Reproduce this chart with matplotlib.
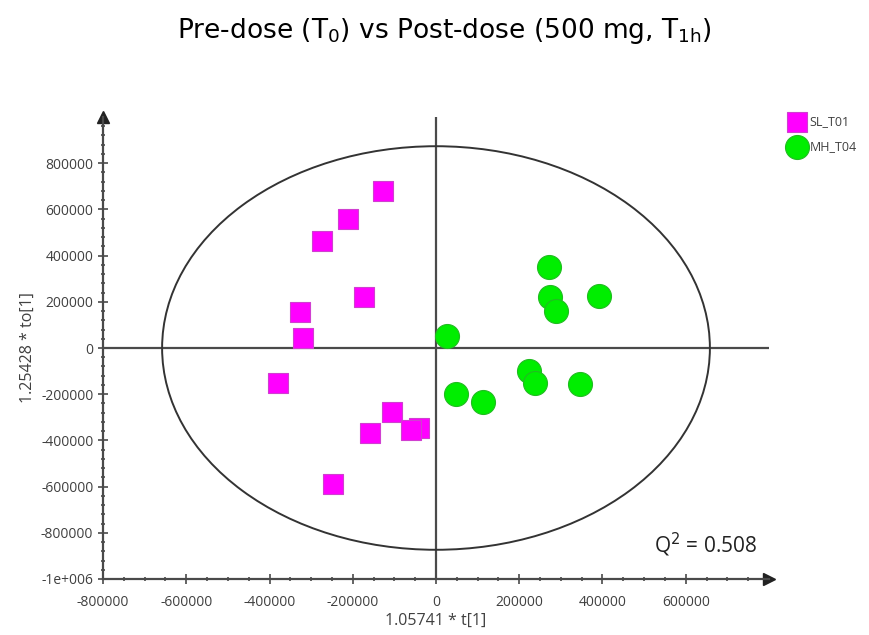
import matplotlib
matplotlib.use("Agg")
import matplotlib.pyplot as plt
from matplotlib.patches import Ellipse
from matplotlib.ticker import FixedLocator, FixedFormatter, MultipleLocator

plt.rcParams['font.family'] = ['Open Sans', 'DejaVu Sans']
plt.rcParams['mathtext.fontset'] = 'custom'
plt.rcParams['mathtext.rm'] = 'DejaVu Sans'
plt.rcParams['mathtext.it'] = 'DejaVu Sans:italic'

# ---- data ----
sl_x = [-128000, -210500, -274400, -172000, -326500, -320000, -380000,
        -105000, -158500, -40000, -60000, -246500]
sl_y = [679000, 558000, 463000, 219000, 156000, 42000, -150000,
        -278000, -366000, -347000, -355000, -589000]
mh_x = [27000, 271000, 274000, 288000, 391000, 223000, 238000, 346000, 48000, 113500]
mh_y = [53000, 349000, 222000, 161000, 226000, -99000, -150000, -156000, -200000, -233500]
series_names = ["SL_T01", "MH_T04"]
ellipse_axes = [658000, 873500]   # half-widths (t, to)
q2_value = 0.508
xticks = [-800000, -600000, -400000, -200000, 0, 200000, 400000, 600000]
xtick_labels = ["-800000", "-600000", "-400000", "-200000", "0", "200000", "400000", "600000"]
yticks = [-1000000, -800000, -600000, -400000, -200000, 0, 200000, 400000, 600000, 800000]
ytick_labels = ["-1e+006", "-800000", "-600000", "-400000", "-200000", "0",
                "200000", "400000", "600000", "800000"]

W, H = 869, 635
fig = plt.figure(figsize=(W / 100, H / 100), dpi=100)
ax = fig.add_axes([103 / W, (H - 579) / H, 666 / W, 462 / H])
ax.set_xlim(-800000, 800000)
ax.set_ylim(-1000000, 1000000)

axcol = '#4a4a4a'
# zero lines
ax.axhline(0, color=axcol, lw=1.6, zorder=1)
ax.axvline(0, color=axcol, lw=1.6, zorder=1)
# ellipse
ax.add_patch(Ellipse((0, 0), 2 * ellipse_axes[0], 2 * ellipse_axes[1],
                     fill=False, ec='#333333', lw=1.4, zorder=2))

ax.scatter(sl_x, sl_y, marker='s', s=(20 * 0.72)**2 * 0.98, c='#ff00ff',
           edgecolors='#d040d0', linewidths=0.8, zorder=3, label=series_names[0])
ax.scatter(mh_x, mh_y, marker='o', s=(24 * 0.72)**2, c='#00ee00',
           edgecolors='#22bb22', linewidths=0.8, zorder=3, label=series_names[1])

# spines
for s in ['top', 'right']:
    ax.spines[s].set_visible(False)
for s in ['left', 'bottom']:
    ax.spines[s].set_color(axcol)
    ax.spines[s].set_linewidth(1.6)
ax.plot(1, 0, marker='>', ms=9, color='#222222', transform=ax.transAxes, clip_on=False)
ax.plot(0, 1, marker='^', ms=9, color='#222222', transform=ax.transAxes, clip_on=False)

ax.xaxis.set_major_locator(FixedLocator(xticks))
ax.xaxis.set_major_formatter(FixedFormatter(xtick_labels))
ax.yaxis.set_major_locator(FixedLocator(yticks))
ax.yaxis.set_major_formatter(FixedFormatter(ytick_labels))
ax.xaxis.set_minor_locator(MultipleLocator(50000))
ax.yaxis.set_minor_locator(MultipleLocator(40000))
ax.tick_params(axis='both', which='major', labelsize=10, labelcolor='#404040', color=axcol,
               width=1.2, direction='inout', length=7)
ax.tick_params(axis='both', which='minor', color=axcol, width=1.2, direction='inout', length=3.5)
ax.tick_params(axis='x', which='major', pad=8)

ax.set_xlabel("1.05741 * t[1]", fontsize=11.5, color='#404040', labelpad=2)
ax.set_ylabel("1.25428 * to[1]", fontsize=11.5, color='#404040', labelpad=4)

ax.text(0.982, 0.074, r"Q$^2$ = %.3f" % q2_value, transform=ax.transAxes, ha='right',
        va='center', fontsize=15, color='#222222')

fig.text(444 / W, 1 - 31 / H, r"Pre-dose (T$_0$) vs Post-dose (500 mg, T$_{\mathrm{1h}}$)",
         ha='center', va='center', fontsize=19, family='DejaVu Sans', color='black')

leg = ax.legend(loc='upper left', bbox_to_anchor=(782 / W, 1 - 110 / H),
                bbox_transform=fig.transFigure, frameon=False, fontsize=9,
                handletextpad=0.2, labelspacing=0.95, borderaxespad=0, handlelength=1.6,
                labelcolor='#404040')

fig.savefig("out.png", dpi=100)
